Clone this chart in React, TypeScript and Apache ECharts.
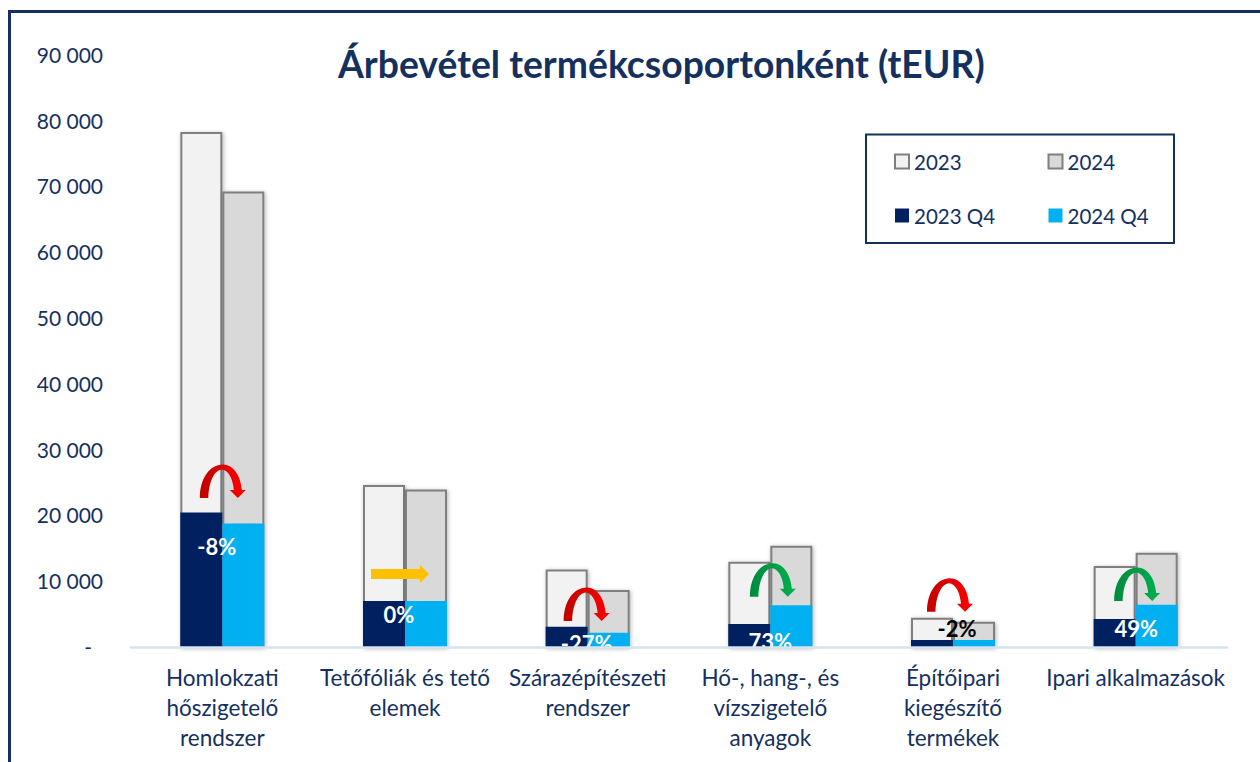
import React, { useEffect, useRef } from "react";
import * as echarts from "echarts";

const categories = [
  "Homlokzati\nhőszigetelő\nrendszer",
  "Tetőfóliák és tető\nelemek",
  "Szárazépítészeti\nrendszer",
  "Hő-, hang-, és\nvízszigetelő\nanyagok",
  "Építőipari\nkiegészítő\ntermékek",
  "Ipari alkalmazások",
];
const yTicks = [0, 10000, 20000, 30000, 40000, 50000, 60000, 70000, 80000, 90000];
const full2023 = [78350, 24700, 11850, 13050, 4530, 12400];
const full2024 = [69300, 24000, 8750, 15470, 3920, 14400];
const q42023 = [20500, 7070, 3160, 3570, 1140, 4330];
const q42024 = [18850, 7070, 2250, 6410, 1140, 6500];
const changeLabels = ["-8%", "0%", "-27%", "73%", "-2%", "49%"];
const arrowKinds = ["down", "flat", "down", "up", "down", "up"];
const arrowLevels = [22720, 11170, 4030, 7720, 5440, 7070];
const arrowShifts = [0.5, 0, -1, 2.5, -3, 1.5];
const labelLevels = [15400, 4950, 650, 950, 2950, 2830];
const labelShifts = [-5.5, -6, -1, 0, 4, 0.5];

const NAVY = "#14305F";
const FONT = "Lato";
const ARC =
  "M0 33.5C0 14 10 0 23 0C34 0 41 12 42 25.5L46 25.5L38 33.5L30 25.5L34 25.5C33 15 29 5.5 22 5C15 5.5 9 16 8.5 33.5Z";

const grad = (a: string, b: string) =>
  new echarts.graphic.LinearGradient(0, 0, 1, 0, [
    { offset: 0, color: a },
    { offset: 1, color: b },
  ]);

const spaced = (v: number) =>
  v === 0 ? "{z|-}" : String(v).replace(/\B(?=(\d{3})+$)/g, " ");

export default function App() {
  const ref = useRef<HTMLDivElement>(null);
  useEffect(() => {
    document.body.style.margin = "0";
    const chart = echarts.init(ref.current!, null, { renderer: "svg" });
    const shadow = {
      shadowColor: "rgba(0,0,0,0.3)",
      shadowBlur: 4,
      shadowOffsetX: 1,
      shadowOffsetY: 1,
    };
    const outline = { borderColor: "#7F7F7F", borderWidth: 2, ...shadow };
    const renderItem = (_: any, api: any) => {
      const i = api.value(0);
      const [cx, yArrow] = api.coord([i, api.value(1)]);
      const [, yLabel] = api.coord([i, api.value(2)]);
      const kind = arrowKinds[i];
      const ax = cx + arrowShifts[i];
      const children: any[] = [];
      if (kind === "flat") {
        children.push({
          type: "polygon",
          shape: {
            points: [
              [ax - 34, yArrow - 5],
              [ax + 15, yArrow - 5],
              [ax + 15, yArrow - 9],
              [ax + 24, yArrow],
              [ax + 15, yArrow + 9],
              [ax + 15, yArrow + 5],
              [ax - 34, yArrow + 5],
            ],
          },
          style: { fill: "#FFC000" },
        });
      } else {
        children.push({
          type: "path",
          shape: {
            pathData: ARC,
            x: ax - 23,
            y: yArrow - 33.5,
            width: 46,
            height: 33.5,
          },
          style: {
            fill: kind === "up" ? grad("#008A3E", "#00B050") : grad("#C00000", "#FF0000"),
          },
        });
      }
      children.push({
        type: "text",
        style: {
          x: cx + labelShifts[i],
          y: yLabel,
          text: changeLabels[i],
          fill: i === 4 ? "#000000" : "#FFFFFF",
          font: `bold 22px ${FONT}`,
          align: "center",
          verticalAlign: "middle",
        },
      });
      return { type: "group", children };
    };
    const legendBase = {
      top: 149.5,
      padding: 0,
      orient: "vertical",
      icon: "rect",
      itemWidth: 14,
      itemHeight: 14,
      itemGap: 30,
      z: 10,
      selectedMode: false,
      textStyle: { color: NAVY, fontFamily: FONT, fontSize: 20.5, height: 24, lineHeight: 24 },
    };
    chart.setOption({
      animation: false,
      backgroundColor: "#FFFFFF",
      title: {
        text: "Árbevétel termékcsoportonként (tEUR)",
        left: 333,
        top: 40,
        padding: 5,
        textStyle: { color: NAVY, fontFamily: FONT, fontWeight: "bold", fontSize: 37.3 },
      },
      grid: { left: 131, right: 33, top: 55.3, height: 592.2, containLabel: false },
      legend: [
        { ...legendBase, data: ["2023", "2023 Q4"], left: 894 },
        { ...legendBase, data: ["2024", "2024 Q4"], left: 1047.5 },
      ],
      xAxis: [
        {
          type: "category",
          data: categories,
          z: 5,
          axisLine: { lineStyle: { color: "#D6E3F3", width: 2.5 } },
          axisTick: { show: false },
          axisLabel: {
            interval: 0,
            margin: 15,
            color: NAVY,
            fontFamily: FONT,
            fontSize: 22.5,
            lineHeight: 30,
          },
        },
        { type: "category", data: categories, show: false },
      ],
      yAxis: {
        type: "value",
        min: yTicks[0],
        max: yTicks[yTicks.length - 1],
        interval: 10000,
        splitLine: { show: false },
        axisLine: { show: false },
        axisTick: { show: false },
        axisLabel: {
          margin: 28,
          color: NAVY,
          fontFamily: FONT,
          fontSize: 21,
          padding: [0, 0, 2, 0],
          formatter: spaced,
          rich: { z: { color: NAVY, fontFamily: FONT, fontSize: 21, padding: [0, 11, 0, 0] } },
        },
      },
      graphic: [
        {
          type: "polyline",
          z: 1,
          silent: true,
          shape: { points: [[9.5, 762], [9.5, 11.5], [1260, 11.5]] },
          style: { stroke: NAVY, lineWidth: 3, fill: "none" },
        },
        {
          type: "rect",
          z: 1,
          silent: true,
          shape: { x: 866, y: 134.5, width: 308, height: 108.5 },
          style: { stroke: NAVY, lineWidth: 2, fill: "#FFFFFF" },
        },
      ],
      series: [
        { name: "2023", type: "bar", xAxisIndex: 0, data: full2023, barWidth: 42, barGap: 0, z: 2, itemStyle: { color: "#F2F2F2", ...outline } },
        { name: "2024", type: "bar", xAxisIndex: 0, data: full2024, barWidth: 42, barGap: 0, z: 2, itemStyle: { color: "#D9D9D9", ...outline } },
        { name: "2023 Q4", type: "bar", xAxisIndex: 1, data: q42023, barWidth: 42, barGap: 0, z: 3, itemStyle: { color: "#002060" } },
        { name: "2024 Q4", type: "bar", xAxisIndex: 1, data: q42024, barWidth: 42, barGap: 0, z: 3, itemStyle: { color: "#00B0F0" } },
        {
          type: "custom",
          xAxisIndex: 0,
          z: 4,
          clip: true,
          silent: true,
          renderItem,
          encode: { x: 0, y: 1 },
          data: categories.map((_, i) => [i, arrowLevels[i], labelLevels[i]]),
        },
      ],
    });
    return () => chart.dispose();
  }, []);
  return <div ref={ref} style={{ width: 1260, height: 762, overflow: "hidden" }} />;
}
